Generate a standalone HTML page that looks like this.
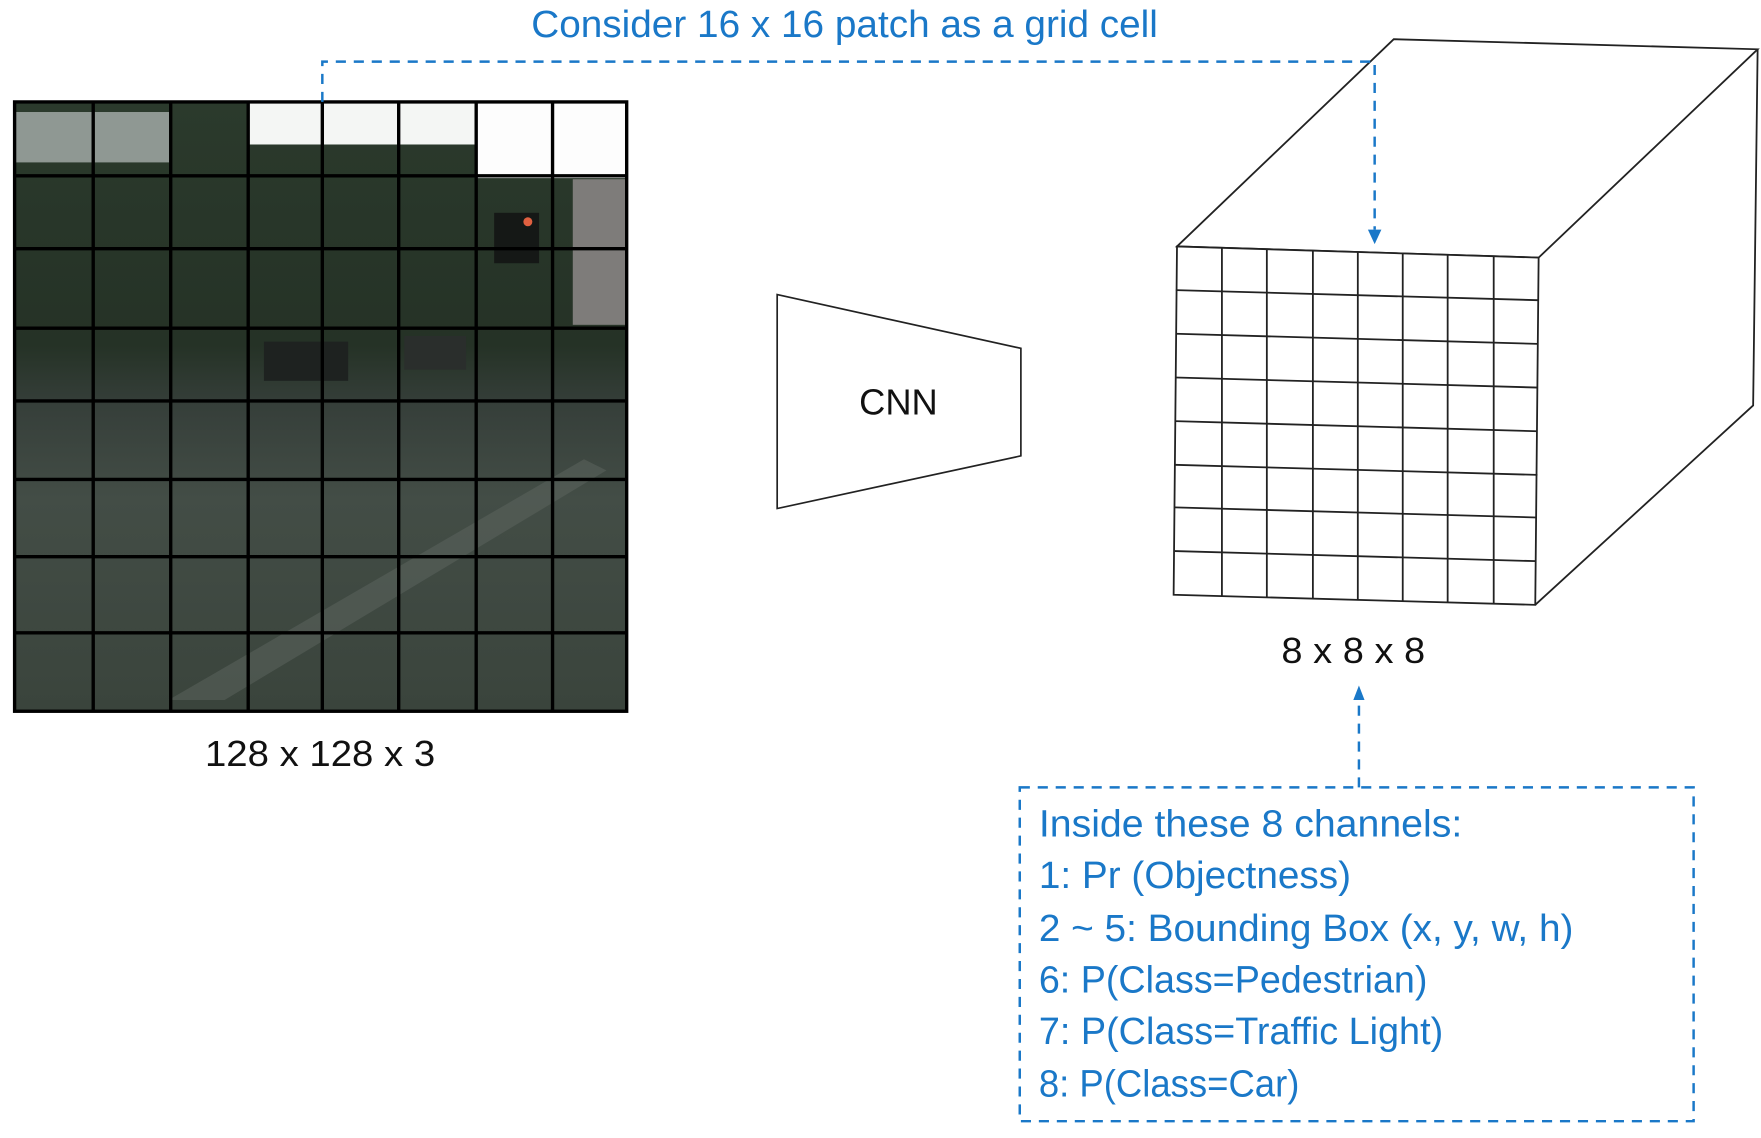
<!DOCTYPE html>
<html><head><meta charset="utf-8"><style>
html,body{margin:0;padding:0;background:#fff;}
svg{display:block;}
text{font-family:"Liberation Sans",sans-serif;}
</style></head><body>
<svg width="1761" height="1138" viewBox="0 0 1568 1016" preserveAspectRatio="none" xmlns="http://www.w3.org/2000/svg">
<defs>
<linearGradient id="photo" x1="0" y1="0" x2="0" y2="1">
<stop offset="0" stop-color="#2b3a2c"/>
<stop offset="0.4" stop-color="#253226"/>
<stop offset="0.5" stop-color="#363f3a"/>
<stop offset="0.65" stop-color="#434d46"/>
<stop offset="1" stop-color="#3a443c"/>
</linearGradient>
</defs>
<rect x="13" y="91" width="545" height="544" fill="url(#photo)"/>
<rect x="13" y="100" width="140" height="45" fill="#8f9893"/>
<rect x="221" y="91" width="337" height="38" fill="#f4f6f4"/>
<rect x="424" y="91" width="134" height="68" fill="#fdfdfd"/>
<rect x="510" y="160" width="48" height="130" fill="#7e7c7a"/>
<polygon points="150,625 200,625 540,420 520,410" fill="#5d6660" opacity="0.5"/>
<rect x="235" y="305" width="75" height="35" fill="#1e2220"/>
<rect x="360" y="300" width="55" height="30" fill="#2a2e2c"/>
<rect x="440" y="190" width="40" height="45" fill="#151816"/>
<circle cx="470" cy="198" r="4" fill="#e06040"/>
<g stroke="#000" stroke-width="3" fill="none">
<rect x="13" y="91" width="545" height="544"/>
<path d="M83 91V635M152 91V635M221 91V635M287 91V635M355 91V635M424 91V635M492 91V635"/>
<path d="M13 157H558M13 222H558M13 293H558M13 358H558M13 428H558M13 497H558M13 565H558"/>
</g>
<text x="285" y="684" font-size="32" text-anchor="middle" fill="#111" textLength="205" lengthAdjust="spacingAndGlyphs">128 x 128 x 3</text>
<polygon points="692,263 909,311 909,407 692,454" fill="#fff" stroke="#222" stroke-width="1.5"/>
<text x="800" y="370" font-size="32" text-anchor="middle" fill="#111" textLength="70" lengthAdjust="spacingAndGlyphs">CNN</text>
<g stroke="#222" stroke-width="1.6" fill="none">
<polygon points="1048,220 1241,35 1565,44 1370,230"/>
<polyline points="1565,44 1561,362 1367,540"/>
<polygon points="1048,220 1370,230 1367,540 1045,531" fill="#fff"/>
<path d="M1088,221V532M1128,222V533M1169,224V535M1209,225V536M1249,226V537M1289,228V538M1330,229V539"/>
<path d="M1047,259L1369,268M1047,298L1369,307M1047,337L1369,346M1046,376L1369,385M1046,415L1369,424M1046,453L1368,462M1046,492L1368,501"/>
</g>
<text x="1205" y="592" font-size="32" text-anchor="middle" fill="#111" textLength="128" lengthAdjust="spacingAndGlyphs">8 x 8 x 8</text>
<g stroke="#1a78c8" stroke-width="2.2" fill="none" stroke-dasharray="9,7">
<path d="M287,91V55H1224V205"/>
<path d="M1210,703V624"/>
<rect x="908" y="703" width="600" height="298"/>
</g>
<polygon points="1218,205 1230,205 1224,218" fill="#1a78c8"/>
<polygon points="1205,625 1215,625 1210,612" fill="#1a78c8"/>
<g fill="#1a78c8" font-size="34">
<text x="752" y="33" text-anchor="middle" textLength="558" lengthAdjust="spacingAndGlyphs">Consider 16 x 16 patch as a grid cell</text>
<text x="925" y="747" textLength="377" lengthAdjust="spacingAndGlyphs">Inside these 8 channels:</text>
<text x="925" y="793" textLength="278" lengthAdjust="spacingAndGlyphs">1: Pr (Objectness)</text>
<text x="925" y="840" textLength="476" lengthAdjust="spacingAndGlyphs">2 ~ 5: Bounding Box (x, y, w, h)</text>
<text x="925" y="886" textLength="346" lengthAdjust="spacingAndGlyphs">6: P(Class=Pedestrian)</text>
<text x="925" y="932" textLength="360" lengthAdjust="spacingAndGlyphs">7: P(Class=Traffic Light)</text>
<text x="925" y="979" textLength="232" lengthAdjust="spacingAndGlyphs">8: P(Class=Car)</text>
</g>
</svg>
</body></html>
